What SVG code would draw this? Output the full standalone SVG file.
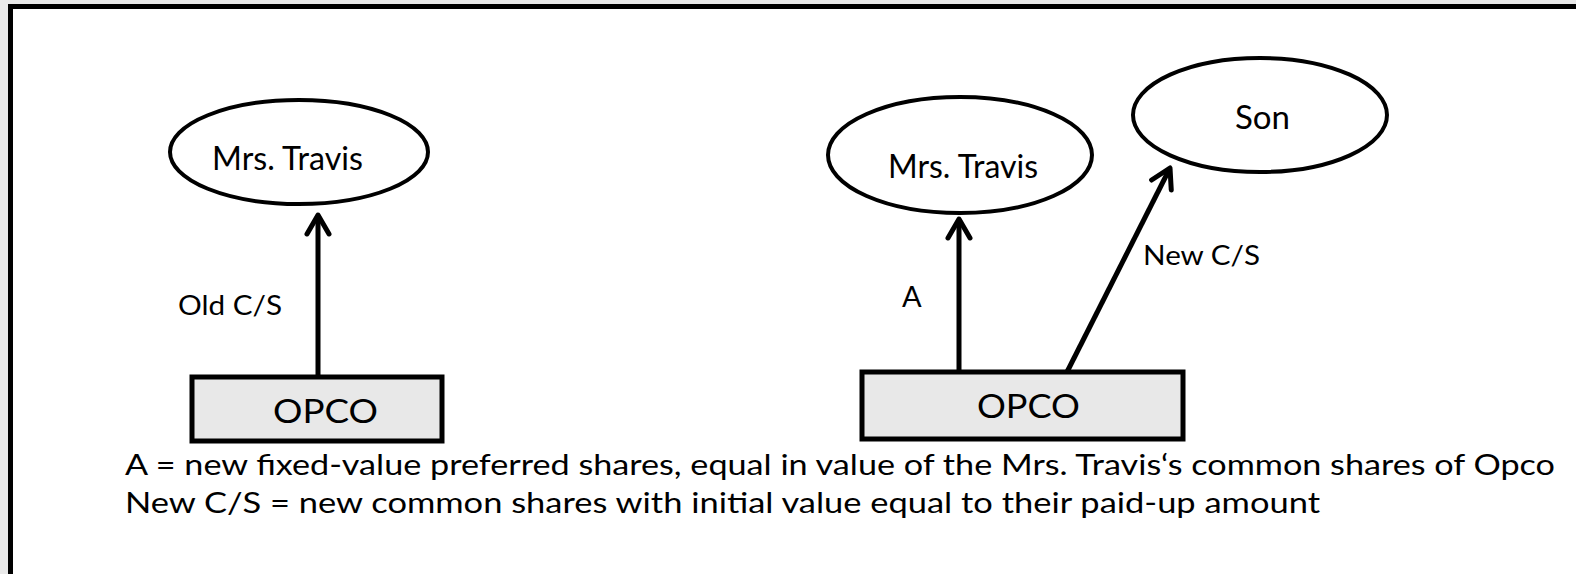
<svg xmlns="http://www.w3.org/2000/svg" width="1576" height="574" viewBox="0 0 1576 574">
<style>
.t{font-family:Lato,"Liberation Sans",sans-serif;fill:#000}
.node{fill:#fff;stroke:#000;stroke-width:4}
.box{fill:#e8e8e8;stroke:#000;stroke-width:5}
.conn{stroke:#000;stroke-width:5;fill:none}
</style>
<defs>
<marker id="arr" markerUnits="userSpaceOnUse" markerWidth="50" markerHeight="50" viewBox="-25 -25 50 50" refX="0" refY="0" orient="auto" overflow="visible">
<path d="M-19,-11 L0,0 L-19,11" fill="none" stroke="#000" stroke-width="5" stroke-linecap="round" stroke-linejoin="round"/>
</marker>
</defs>
<rect x="0" y="0" width="1576" height="574" fill="#e9e9e9"/>
<rect x="10.5" y="6.5" width="1600" height="600" fill="#fff" stroke="#000" stroke-width="5"/>

<g id="left-mrs-travis">
<ellipse class="node" cx="299" cy="152" rx="129" ry="52"/>
<text class="t" x="212" y="170" font-size="33" textLength="151" lengthAdjust="spacingAndGlyphs">Mrs. Travis</text>
</g>
<g id="left-opco">
<rect class="box" x="192" y="377" width="250" height="64"/>
<text class="t" x="273" y="423" font-size="33" textLength="105" lengthAdjust="spacingAndGlyphs">OPCO</text>
</g>

<g id="right-mrs-travis">
<ellipse class="node" cx="960" cy="155" rx="132" ry="58"/>
<text class="t" x="888" y="178" font-size="33" textLength="150" lengthAdjust="spacingAndGlyphs">Mrs. Travis</text>
</g>
<g id="son">
<ellipse class="node" cx="1260" cy="115" rx="127" ry="57"/>
<text class="t" x="1235" y="129" font-size="33" textLength="55" lengthAdjust="spacingAndGlyphs">Son</text>
</g>
<g id="right-opco">
<rect class="box" x="862" y="372" width="321" height="67"/>
<text class="t" x="977" y="418" font-size="33" textLength="103" lengthAdjust="spacingAndGlyphs">OPCO</text>
</g>

<g id="connectors">
<line class="conn" x1="318" y1="377" x2="318" y2="215" marker-end="url(#arr)"/>
<line class="conn" x1="959" y1="372" x2="959" y2="219" marker-end="url(#arr)"/>
<line class="conn" x1="1067" y1="372" x2="1170" y2="168" marker-end="url(#arr)"/>
<text class="t" x="178" y="315" font-size="27" textLength="104" lengthAdjust="spacingAndGlyphs">Old C/S</text>
<text class="t" x="902" y="307" font-size="29">A</text>
<text class="t" x="1143" y="265" font-size="27" textLength="117" lengthAdjust="spacingAndGlyphs">New C/S</text>
</g>

<g id="notes">
<text class="t" x="125" y="475" font-size="28" textLength="1430" lengthAdjust="spacingAndGlyphs">A = new fixed-value preferred shares, equal in value of the Mrs. Travis‘s common shares of Opco</text>
<text class="t" x="125" y="513" font-size="28" textLength="1195" lengthAdjust="spacingAndGlyphs">New C/S = new common shares with initial value equal to their paid-up amount</text>
</g>
</svg>
